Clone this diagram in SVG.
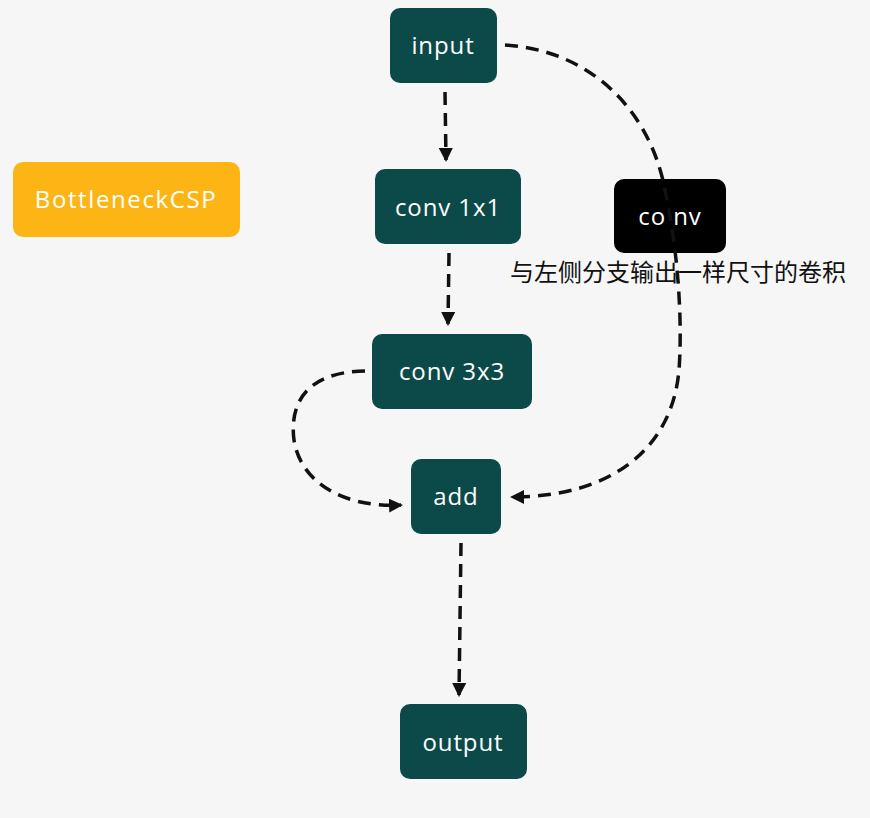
<svg xmlns="http://www.w3.org/2000/svg" width="870" height="818" viewBox="0 0 870 818">
<style>
.node rect{fill:#0c4a4a}
.lbl{font-family:"Open Sans","Liberation Sans",sans-serif;font-size:24px;fill:#ffffff;text-anchor:middle;letter-spacing:0.9px}
.edge{fill:none;stroke:#111;stroke-width:3.5;stroke-dasharray:13 8}
.cn{font-family:"Noto Sans CJK SC",sans-serif;font-size:24px;fill:#111;text-anchor:middle}
</style>
<defs>
<marker id="ah" markerWidth="14" markerHeight="14" refX="12" refY="7" orient="auto" markerUnits="userSpaceOnUse">
<path d="M0,0 L14,7 L0,14 Z" fill="#111"/>
</marker>
</defs>
<rect x="0" y="0" width="870" height="818" fill="#f6f6f6"/>
<g id="bottleneck"><rect x="13" y="162" width="227" height="75" rx="10" fill="#fdb515"/><text class="lbl" x="126" y="208" style="letter-spacing:1.6px">BottleneckCSP</text></g>
<g id="input" class="node"><rect x="390" y="8" width="107" height="75" rx="10"/><text class="lbl" x="443" y="54">input</text></g>
<g id="conv1" class="node"><rect x="375" y="169" width="146" height="75" rx="10"/><text class="lbl" x="448" y="216">conv 1x1</text></g>
<g id="conv3" class="node"><rect x="372" y="334" width="160" height="75" rx="10"/><text class="lbl" x="452" y="380">conv 3x3</text></g>
<g id="add" class="node"><rect x="411" y="459" width="90" height="75" rx="10"/><text class="lbl" x="456" y="505">add</text></g>
<g id="output" class="node"><rect x="400" y="704" width="127" height="75" rx="10"/><text class="lbl" x="463" y="751">output</text></g>
<g id="convside"><rect x="614" y="179" width="112" height="74" rx="10" fill="#000"/><text class="lbl" x="670" y="225">co nv</text><text class="cn" x="678" y="281">与左侧分支输出一样尺寸的卷积</text></g>
<g id="edges">
<path class="edge" d="M445,92 L446,160" marker-end="url(#ah)"/>
<path class="edge" d="M449,253 L448,324" marker-end="url(#ah)"/>
<path class="edge" d="M365,371 C300,372 290,410 294,440 C300,480 340,508 401,505" marker-end="url(#ah)"/>
<path class="edge" d="M505,45 C590,50 650,110 665,190 C680,260 682,330 679,370 C672,450 610,497 512,497" marker-end="url(#ah)"/>
<path class="edge" d="M461,543 L459,695" marker-end="url(#ah)"/>
</g>
</svg>
